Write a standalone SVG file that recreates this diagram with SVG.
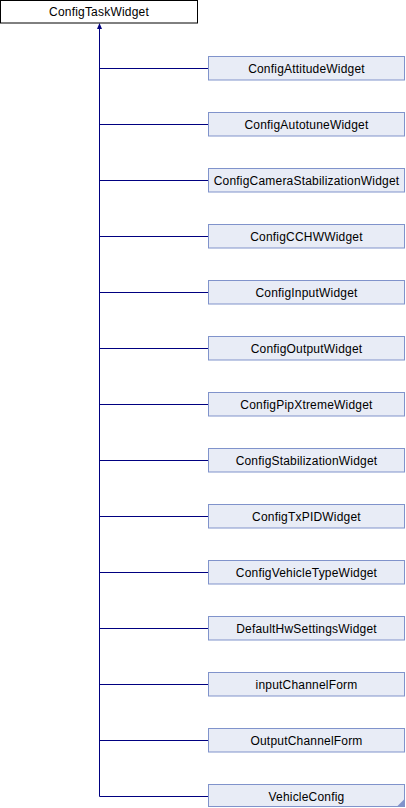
<svg xmlns="http://www.w3.org/2000/svg" width="406" height="808" viewBox="0 0 406 808">
<style>
.n rect{fill:#E8ECF6;stroke:#8093CB;stroke-width:1}
.root rect{fill:#FFFFFF;stroke:#000000;stroke-width:1}
text{font-family:"Liberation Sans",Arial,sans-serif;font-size:12px;letter-spacing:0.2px;fill:#000000;text-anchor:middle}
.e{stroke:#000080;stroke-width:1;fill:none}
</style>
<rect width="406" height="808" fill="#FFFFFF"/>
<g id="edges">
<path class="e" d="M99.5,28 V796.5"/>
<polygon points="99.5,23 97,29 102,29" fill="#000080"/>
<path class="e" d="M99.5,68.5 H208 M99.5,124.5 H208 M99.5,180.5 H208 M99.5,236.5 H208 M99.5,292.5 H208 M99.5,348.5 H208 M99.5,404.5 H208 M99.5,460.5 H208 M99.5,516.5 H208 M99.5,572.5 H208 M99.5,628.5 H208 M99.5,684.5 H208 M99.5,740.5 H208 M99.5,796.5 H208"/>
</g>
<g id="ConfigTaskWidget" class="root"><rect x="0.5" y="0.5" width="197" height="22.5"/><text x="99" y="16">ConfigTaskWidget</text></g>
<g id="ConfigAttitudeWidget" class="n"><rect x="208.5" y="56.5" width="196" height="23.5"/><text x="306.5" y="72.5">ConfigAttitudeWidget</text></g>
<g id="ConfigAutotuneWidget" class="n"><rect x="208.5" y="112.5" width="196" height="23.5"/><text x="306.5" y="128.5">ConfigAutotuneWidget</text></g>
<g id="ConfigCameraStabilizationWidget" class="n"><rect x="208.5" y="168.5" width="196" height="23.5"/><text x="306.5" y="184.5">ConfigCameraStabilizationWidget</text></g>
<g id="ConfigCCHWWidget" class="n"><rect x="208.5" y="224.5" width="196" height="23.5"/><text x="306.5" y="240.5">ConfigCCHWWidget</text></g>
<g id="ConfigInputWidget" class="n"><rect x="208.5" y="280.5" width="196" height="23.5"/><text x="306.5" y="296.5">ConfigInputWidget</text></g>
<g id="ConfigOutputWidget" class="n"><rect x="208.5" y="336.5" width="196" height="23.5"/><text x="306.5" y="352.5">ConfigOutputWidget</text></g>
<g id="ConfigPipXtremeWidget" class="n"><rect x="208.5" y="392.5" width="196" height="23.5"/><text x="306.5" y="408.5">ConfigPipXtremeWidget</text></g>
<g id="ConfigStabilizationWidget" class="n"><rect x="208.5" y="448.5" width="196" height="23.5"/><text x="306.5" y="464.5">ConfigStabilizationWidget</text></g>
<g id="ConfigTxPIDWidget" class="n"><rect x="208.5" y="504.5" width="196" height="23.5"/><text x="306.5" y="520.5">ConfigTxPIDWidget</text></g>
<g id="ConfigVehicleTypeWidget" class="n"><rect x="208.5" y="560.5" width="196" height="23.5"/><text x="306.5" y="576.5">ConfigVehicleTypeWidget</text></g>
<g id="DefaultHwSettingsWidget" class="n"><rect x="208.5" y="616.5" width="196" height="23.5"/><text x="306.5" y="632.5">DefaultHwSettingsWidget</text></g>
<g id="inputChannelForm" class="n"><rect x="208.5" y="672.5" width="196" height="23.5"/><text x="306.5" y="688.5">inputChannelForm</text></g>
<g id="OutputChannelForm" class="n"><rect x="208.5" y="728.5" width="196" height="23.5"/><text x="306.5" y="744.5">OutputChannelForm</text></g>
<g id="VehicleConfig" class="n"><rect x="208.5" y="784.5" width="196" height="22"/><text x="306.5" y="800.5">VehicleConfig</text>
<polygon points="404.5,799 404.5,806.5 397,806.5" fill="#8093CB" stroke="none"/></g>
</svg>
